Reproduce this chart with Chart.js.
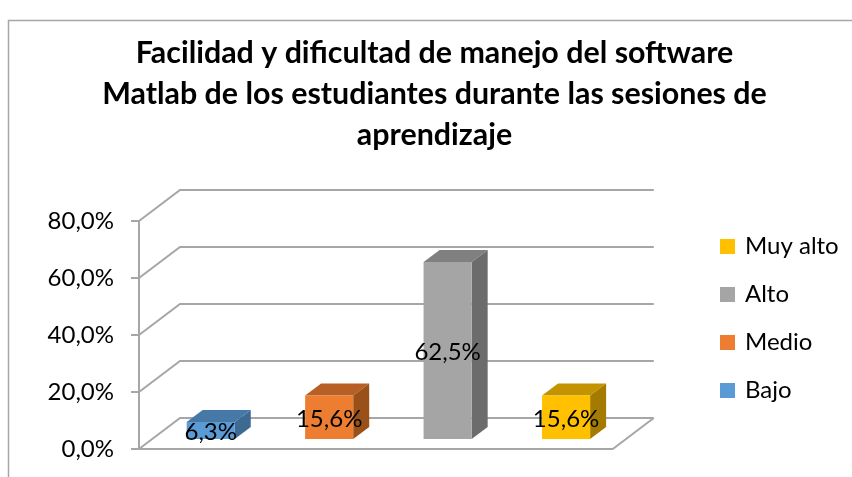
<!DOCTYPE html>
<html>
<head>
<meta charset="utf-8">
<script src="https://cdn.jsdelivr.net/npm/chart.js@4"></script>
<style>
html,body{margin:0;padding:0;background:#fff}
#wrap{width:852px;height:477px;position:relative}
</style>
</head>
<body>
<div id="wrap"><canvas id="c" width="852" height="477"></canvas></div>
<script>
const titleLines = ["Facilidad y dificultad de manejo del software","Matlab de los estudiantes durante las sesiones de","aprendizaje"];
const categories = ["Bajo","Medio","Alto","Muy alto"];
const values = [6.3,15.6,62.5,15.6];
const frontColors = ["#5B9BD5","#ED7D31","#A5A5A5","#FFC000"];
const topColors = ["#4678A8","#B75F24","#808080","#C49400"];
const sideColors = ["#3D6A92","#9A5019","#6C6C6C","#A37B00"];
const gridColor = "#A6A6A6";
const WALL = {dx:41, dy:-31};
const BAR_SHIFT = {dx:12.5, dy:-9};
const BAR_DEPTH = {dx:16, dy:-12};
const fmt = v => v.toFixed(1).replace('.',',') + '%';

const scene = {
  id:'scene',
  afterLayout(chart){
    chart.titleBlock.left = 17; chart.titleBlock.right = 852;
    const lg = chart.legend;
    lg.left = 698; lg.top = 210.5; lg.right = 852; lg.bottom = 477;
  },
  beforeDraw(chart){
    const {ctx} = chart;
    ctx.save();
    ctx.strokeStyle = gridColor; ctx.lineWidth = 1.5;
    ctx.beginPath(); ctx.moveTo(8.5,477); ctx.lineTo(8.5,20.5); ctx.lineTo(852,20.5); ctx.stroke();
    ctx.restore();
  },
  beforeDatasetsDraw(chart){
    const {ctx, chartArea:a, scales:{y}} = chart;
    ctx.save();
    ctx.strokeStyle = gridColor; ctx.lineWidth = 2;
    ctx.beginPath();
    y.ticks.forEach(t=>{
      const py = y.getPixelForValue(t.value);
      ctx.moveTo(a.left,py);
      ctx.lineTo(a.left+WALL.dx,py+WALL.dy);
      ctx.lineTo(a.right+WALL.dx,py+WALL.dy);
    });
    const p0 = y.getPixelForValue(0);
    ctx.moveTo(a.right+WALL.dx,p0+WALL.dy);
    ctx.lineTo(a.right,p0);
    ctx.stroke();
    ctx.restore();
    // the bars themselves are drawn by the library, one step into the floor
    ctx.save();
    ctx.translate(BAR_SHIFT.dx,BAR_SHIFT.dy);
    chart.getDatasetMeta(0).data.forEach((b,i)=>{
      const l=b.x-b.width/2, r=b.x+b.width/2, t=b.y, bt=b.base;
      const {dx,dy}=BAR_DEPTH;
      ctx.fillStyle=topColors[i];
      ctx.beginPath();ctx.moveTo(l,t);ctx.lineTo(l+dx,t+dy);ctx.lineTo(r+dx,t+dy);ctx.lineTo(r,t);ctx.closePath();ctx.fill();
      ctx.fillStyle=sideColors[i];
      ctx.beginPath();ctx.moveTo(r,t);ctx.lineTo(r+dx,t+dy);ctx.lineTo(r+dx,bt+dy);ctx.lineTo(r,bt);ctx.closePath();ctx.fill();
    });
  },
  afterDatasetsDraw(chart){
    const {ctx} = chart;
    ctx.restore();
    ctx.save();
    ctx.font = '24px Lato';
    ctx.fillStyle = '#000';
    ctx.textAlign='center'; ctx.textBaseline='middle';
    chart.getDatasetMeta(0).data.forEach((b,i)=>{
      ctx.fillText(fmt(values[i]), b.x+BAR_SHIFT.dx, (b.y+b.base)/2+BAR_SHIFT.dy+2);
    });
    ctx.restore();
  }
};

new Chart(document.getElementById('c'),{
  type:'bar',
  data:{labels:categories,datasets:[{label:'Serie',data:values,backgroundColor:frontColors,categoryPercentage:0.406,barPercentage:1,clip:false}]},
  plugins:[scene],
  options:{
    responsive:false,animation:false,
    layout:{autoPadding:false,padding:{left:0,right:88.5,top:0,bottom:28}},
    plugins:{
      tooltip:{enabled:false},
      title:{display:true,text:titleLines,color:'#000',font:{family:'Lato',size:30.4,weight:'bold',lineHeight:'41px'},padding:{top:33,bottom:65}},
      legend:{position:'right',align:'start',labels:{
        color:'#000',font:{family:'Lato',size:24},boxWidth:11,boxHeight:11,padding:24,
        generateLabels:()=>categories.map((c,i)=>({text:c,fillStyle:frontColors[i],strokeStyle:frontColors[i],lineWidth:4,index:i})).reverse()
      }}
    },
    scales:{
      x:{offset:true,ticks:{display:false},grid:{display:false,drawTicks:false},border:{display:true,color:gridColor,width:2},afterFit:s=>{s.height=0;}},
      y:{min:0,max:80,ticks:{stepSize:20,color:'#000',font:{family:'Lato',size:24},padding:17,callback:v=>fmt(v)},
        grid:{drawOnChartArea:false,drawTicks:true,tickLength:8,color:gridColor,lineWidth:2},
        border:{display:true,color:gridColor,width:2},afterFit:s=>{s.width=139;s.paddingTop=0;s.paddingBottom=0;}}
    }
  }
});
</script>
</body>
</html>
